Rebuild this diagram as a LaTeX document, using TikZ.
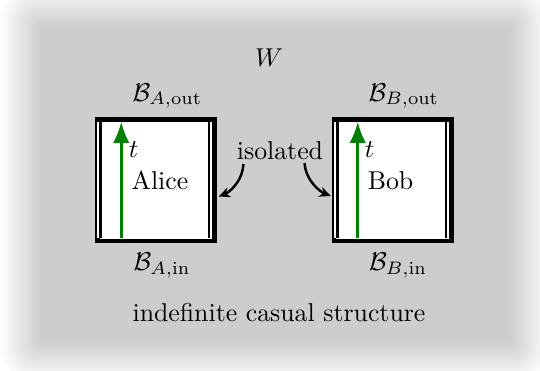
\documentclass[tikz,border=0pt]{standalone}
\usetikzlibrary{arrows.meta,calc}
\begin{document}
\begin{tikzpicture}[x=0.3876pt,y=-0.3876pt,
  box/.style={draw=black,fill=white,line width=1.75pt,inner sep=0pt,outer sep=0pt,minimum width=45.54pt,minimum height=47.09pt},
  lbl/.style={inner sep=0pt,anchor=base},
  tarrow/.style={draw=green!50!black,line width=1.2pt,-{Latex[length=8.3pt,width=6.4pt]}},
  conn/.style={line width=0.95pt,-{Stealth[length=4.4pt,width=4pt]}},
  gapline/.style={white,line width=0.8pt},
  inline/.style={black,line width=1.1pt},
  thinline/.style={black,line width=0.8pt}]
\useasboundingbox (0,0) rectangle (540,370);
\begin{scope}
\clip (0,0) rectangle (540,370);
\foreach \d in {-20,-18,...,20} {
  \pgfmathsetmacro\f{20*(\d+21)/42}
  \pgfmathsetmacro\r{max(1,(20-\d)*0.8)*0.3876}
  \fill[black!\f, rounded corners=\r pt] (20+\d,6+\d) rectangle (530-\d,362-\d);
}
\end{scope}
\node[box] (alice) at (156,180) {};
\node[box] (bob) at (392.5,180) {};
\foreach \b in {alice,bob} {
  \draw[gapline] ($(\b.north west)+(1,2.3)$) -- ($(\b.south west)+(1,-2.3)$);
  \draw[inline] ($(\b.north west)+(3.7,2.3)$) -- ($(\b.south west)+(3.7,-2.3)$);
  \draw[gapline] ($(\b.north east)+(-3.5,2.3)$) -- ($(\b.south east)+(-3.5,-2.3)$);
  \draw[thinline] ($(\b.north east)+(-5.5,2.3)$) -- ($(\b.south east)+(-5.5,-2.3)$);
  \draw[tarrow] ($(\b.south west)+(24,-2.3)$) -- ($(\b.north west)+(24,2.3)$);
}
\node[lbl] (W) at (269,66) {$W$};
\node[lbl,anchor=base west] (aout) at (132,101) {$\mathcal{B}_{A,\mathrm{out}}$};
\node[lbl,anchor=base west] (ain) at (133,270.5) {$\mathcal{B}_{A,\mathrm{in}}$};
\node[lbl,anchor=base west] (bout) at (368,101) {$\mathcal{B}_{B,\mathrm{out}}$};
\node[lbl,anchor=base west] (bin) at (368.5,270.5) {$\mathcal{B}_{B,\mathrm{in}}$};
\node[lbl] (at) at (133.5,157) {$t$};
\node[lbl] (bt) at (369.5,157) {$t$};
\node[lbl] (atxt) at (160,189.5) {Alice};
\node[lbl] (btxt) at (390.5,189.5) {Bob};
\node[lbl] (iso) at (280,159) {isolated};
\node[lbl] (ics) at (279,321) {indefinite casual structure};
\coordinate (s1) at ($(iso.base west)+(7,5)$);
\coordinate (e1) at ($(alice.east)+(4,16.5)$);
\draw[conn] (s1) .. controls +(-1,18) and +(10,-4) .. (e1);
\coordinate (s2) at ($(iso.base east)+(-19,4)$);
\coordinate (e2) at ($(bob.west)+(-3,16)$);
\draw[conn] (s2) .. controls +(1,18) and +(-10,-4) .. (e2);
\end{tikzpicture}
\end{document}
